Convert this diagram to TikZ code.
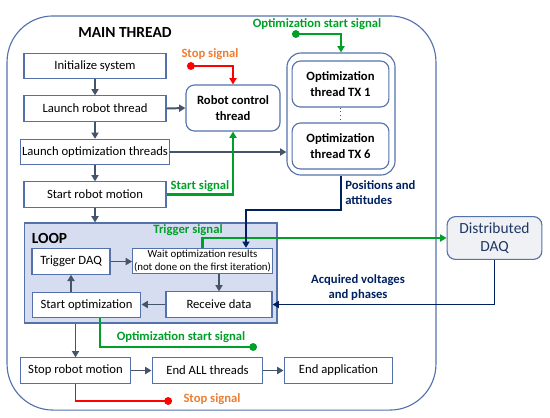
\documentclass[tikz,border=0pt]{standalone}
\usepackage{fontspec}
\setmainfont{Carlito}
\usepackage{xcolor}
\usetikzlibrary{arrows.meta, positioning}

\definecolor{boxblue}{RGB}{84,113,170}
\definecolor{loopfill}{RGB}{214,221,240}
\definecolor{flowgray}{RGB}{68,84,106}
\definecolor{navyline}{RGB}{0,32,96}
\definecolor{sigreen}{RGB}{0,160,40}
\definecolor{sigorange}{RGB}{237,125,49}
\definecolor{daqfill}{RGB}{240,241,245}
\definecolor{daqtext}{RGB}{31,56,100}

\begin{document}
\begin{tikzpicture}[x=0.025cm, y=-0.025cm,
  box/.style={rectangle, draw=boxblue, fill=white, line width=0.8pt, minimum width=3.55cm, minimum height=0.63cm, inner sep=1pt, align=center, font=\fontsize{9}{10.5}\selectfont},
  thread/.style={rectangle, draw=boxblue, fill=white, line width=0.8pt, rounded corners=6pt, minimum width=2.42cm, minimum height=1.15cm, align=center, font=\fontsize{9}{11}\selectfont\bfseries},
  flow/.style={-{Triangle[length=4.5pt, width=5pt]}, line width=1.4pt, flowgray},
  redsig/.style={{Circle[length=5.5pt]}-{Triangle[length=4.5pt, width=5pt]}, line width=1.4pt, red},
  greensig/.style={-{Triangle[length=4.5pt, width=5pt]}, line width=1.5pt, sigreen},
  navysig/.style={-{Triangle[length=4.5pt, width=5pt]}, line width=1.4pt, navyline},
  siglabel/.style={font=\fontsize{9}{10.5}\selectfont\bfseries, align=center, inner sep=0pt}
]
\useasboundingbox (0,0) rectangle (550,417);

% main thread frame
\node[draw=boxblue, line width=0.8pt, rounded corners=1.15cm, minimum width=10.72cm, minimum height=9.85cm] (mainFrame) at (221.5,213) {};
\node[font=\fontsize{11}{13}\selectfont\bfseries] (mainTitle) at (125,32) {MAIN THREAD};

% sequence of the main thread
\node[box] (init) at (95,66) {Initialize system};
\node[box] (launchRobot) at (95,108.5) {Launch robot thread};
\node[box] (launchOpt) at (95,152) {Launch optimization threads};
\node[box] (startMotion) at (95,194.5) {Start robot motion};

\node[thread, minimum width=2.35cm] (robotCtrl) at (233,108) {Robot control\\thread};

% optimization threads
\node[draw=boxblue, line width=0.8pt, rounded corners=10pt, minimum width=2.7cm, minimum height=3.05cm] (optGroup) at (341,114) {};
\node[thread] (tx1) at (340.5,84) {Optimization\\thread TX 1};
\node[thread] (tx6) at (340.5,146) {Optimization\\thread TX 6};
\draw[flowgray, dotted, line width=0.7pt] (tx1.south) -- (tx6.north);

% loop
\node[draw=boxblue, fill=loopfill, line width=0.8pt, minimum width=6.32cm, minimum height=2.5cm] (loop) at (150.5,273) {};
\node[font=\fontsize{11}{13}\selectfont\bfseries] (loopTitle) at (49.5,238) {LOOP};
\node[box, minimum width=1.95cm] (trigDaq) at (71,261.5) {Trigger DAQ};
\node[box, minimum width=3.47cm, font=\fontsize{7.7}{9}\selectfont] (waitOpt) at (202.5,261) {Wait optimization results\\(not done on the first iteration)};
\node[box, minimum width=2.65cm] (recvData) at (219,304.5) {Receive data};
\node[box, minimum width=2.72cm] (startOpt) at (86.5,305) {Start optimization};

\node[draw=boxblue, fill=daqfill, line width=0.8pt, rounded corners=6pt, minimum width=2.37cm, minimum height=1.07cm, align=center, text=daqtext, font=\fontsize{11}{13}\selectfont] (daq) at (494.5,238) {Distributed\\DAQ};

% end of the run
\node[box, minimum width=2.77cm] (stopMotion) at (75.5,370.5) {Stop robot motion};
\node[box, minimum width=2.77cm] (endThreads) at (207.5,370.5) {End ALL threads};
\node[box, minimum width=2.72cm] (endApp) at (338.5,370.5) {End application};

% main flow
\draw[flow] (init) -- (launchRobot);
\draw[flow] (launchRobot) -- (launchOpt);
\draw[flow] (launchOpt) -- (startMotion);
\draw[flow] (startMotion.south) -- (startMotion.south |- loop.north);
\draw[flow] (launchRobot.east) -- (robotCtrl.west);
\draw[flow] (launchOpt.east) -- (launchOpt.east -| optGroup.west);
\draw[flow] (trigDaq.east) -- (trigDaq.east -| waitOpt.west);
\draw[flow] (waitOpt.south -| recvData.north) -- (recvData.north);
\draw[flow] (recvData.west) -- (recvData.west -| startOpt.east);
\draw[flow] (trigDaq.south |- startOpt.north) -- (trigDaq.south);
\draw[flow] (stopMotion.north |- loop.south) -- (stopMotion.north);
\draw[flow] (stopMotion) -- (endThreads);
\draw[flow] (endThreads) -- (endApp);

% signals
\coordinate (stopDotTop) at (187,66);
\coordinate (optDotTop) at (292,34);
\coordinate (optDotLow) at (257,347);
\coordinate (stopDotLow) at (172,401);
\coordinate (posBend) at (246,210);

\draw[redsig] (stopDotTop) -| (robotCtrl.north);
\node[siglabel, text=sigorange] (stopLblTop) at (210,54) {Stop signal};

\draw[greensig] (startMotion.east) -| (robotCtrl.south);
\node[siglabel, text=sigreen] (startLbl) at (200,186) {Start signal};

\draw[greensig, {Circle[length=5.5pt]}-{Triangle[length=4.5pt, width=5pt]}] (optDotTop) -| (optGroup.north);
\node[siglabel, text=sigreen] (optLblTop) at (317,24) {Optimization start signal};

\draw[greensig] (waitOpt.north) |- (daq.west);
\node[siglabel, text=sigreen] (trigLbl) at (188,230) {Trigger signal};

\draw[navysig] (optGroup.south) |- (posBend) -- (posBend |- waitOpt.north);
\node[siglabel, text=navyline, align=left, anchor=west] (posLbl) at (345,192.5) {Positions and\\attitudes};

\draw[navysig] (daq.south) |- (recvData.east);
\node[siglabel, text=navyline] (acqLbl) at (358,287.5) {Acquired voltages\\and phases};

\draw[greensig, -{Circle[length=5.5pt]}] ([xshift=0.34cm]startOpt.south) |- (optDotLow);
\node[siglabel, text=sigreen] (optLblLow) at (181,337) {Optimization start signal};

\draw[redsig, -{Circle[length=5.5pt]}] (stopMotion.south) |- (stopDotLow);
\node[siglabel, text=sigorange] (stopLblLow) at (212,399) {Stop signal};
\end{tikzpicture}
\end{document}
